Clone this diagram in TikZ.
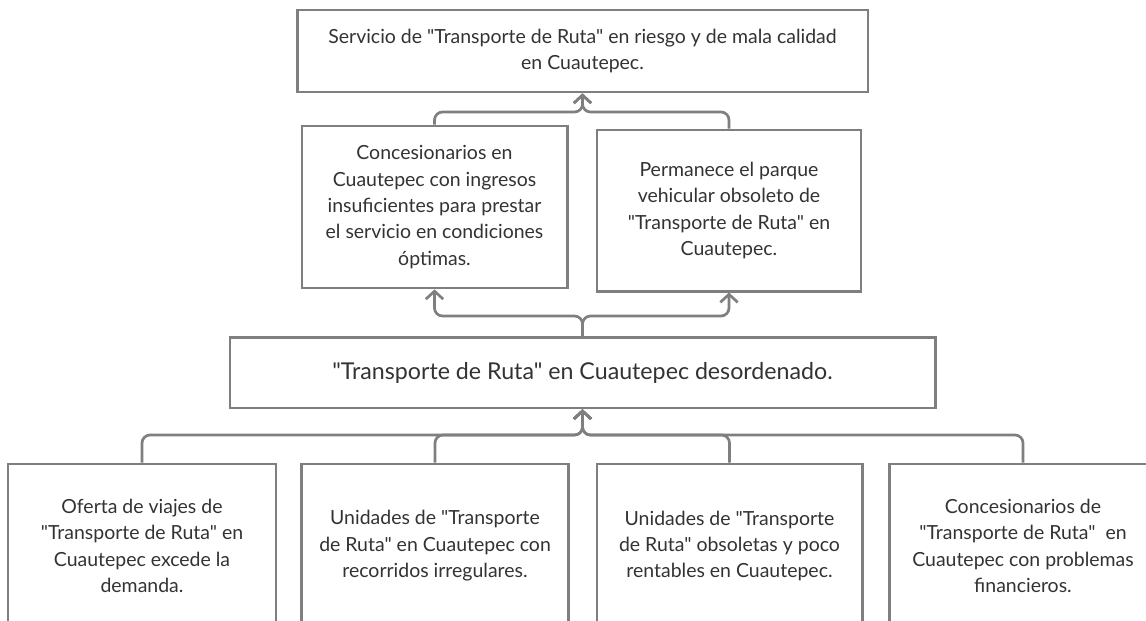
\documentclass[tikz,border=0pt]{standalone}
\usepackage{fontspec}
\setmainfont{Lato}[Ligatures=TeXOff]
\usepackage{xcolor}
\usepackage{tikz}
\usetikzlibrary{arrows.meta}

\definecolor{linegray}{HTML}{7F7F7F}
\definecolor{textgray}{HTML}{333333}

\begin{document}
\begin{tikzpicture}[x=0.75pt,y=-0.75pt,
    box/.style={draw=linegray,line width=2pt,fill=white,text=textgray,
      align=center,inner sep=0pt,font=\fontsize{14.6}{19.8}\selectfont},
    link/.style={draw=linegray,line width=2pt,rounded corners=6pt,
      -{Straight Barb[length=6pt,width=13pt,line width=2pt]}}]
    \useasboundingbox (0,0) rectangle (1146,621);
    \clip (0,0) rectangle (1146,621);
    \fill[white] (0,0) rectangle (1146,621);

    % effect
    \node[box,minimum width=428pt,minimum height=61.5pt](top) at (582.5,51)
      {Servicio de "Transporte de Ruta" en riesgo y de mala calidad\\ en Cuautepec.};

    % consequences
    \node[box,minimum width=199pt,minimum height=121.5pt](midL) at (434.5,207)
      {Concesionarios en\\ Cuautepec con ingresos\\ insuficientes para prestar\\
       el servicio en condiciones\\ óptimas.};
    \node[box,minimum width=198pt,minimum height=121pt](midR) at (729,210.5)
      {Permanece el parque\\ vehicular obsoleto de\\ "Transporte de Ruta" en\\ Cuautepec.};

    % central problem
    \node[box,minimum width=529pt,minimum height=53pt,
      font=\fontsize{17.4}{20}\selectfont](core) at (582.5,372.5)
      {"Transporte de Ruta" en Cuautepec desordenado.};

    % causes
    \node[box,minimum width=201pt,minimum height=123pt](c1) at (142,546)
      {Oferta de viajes de\\ "Transporte de Ruta" en\\ Cuautepec excede la\\ demanda.};
    \node[box,minimum width=200pt,minimum height=123pt](c2) at (435,546)
      {Unidades de "Transporte\\ de Ruta" en Cuautepec con\\ recorridos irregulares.};
    \node[box,minimum width=199pt,minimum height=123pt](c3) at (729.5,546)
      {Unidades de "Transporte\\ de Ruta" obsoletas y poco\\ rentables en Cuautepec.};
    \node[box,minimum width=200pt,minimum height=123pt](c4) at (1023,546)
      {Concesionarios de\\ "Transporte de Ruta"~ en\\ Cuautepec con problemas\\ financieros.};

    % junctions
    \coordinate (jtop) at (582.5,112);
    \coordinate (jmid) at (582.5,316);
    \coordinate (jbot) at (582.5,435);

    \draw[link] (midL.north) |- (jtop) -- (top.south);
    \draw[link] (midR.north) |- (jtop) -- (top.south);

    \draw[link] (core.north) -- (jmid) -| (midL.south);
    \draw[link] (core.north) -- (jmid) -| (midR.south);

    \draw[link] (c1.north) |- (jbot) -- (core.south);
    \draw[link] (c2.north) |- (jbot) -- (core.south);
    \draw[link] (c3.north) |- (jbot) -- (core.south);
    \draw[link] (c4.north) |- (jbot) -- (core.south);
\end{tikzpicture}
\end{document}
